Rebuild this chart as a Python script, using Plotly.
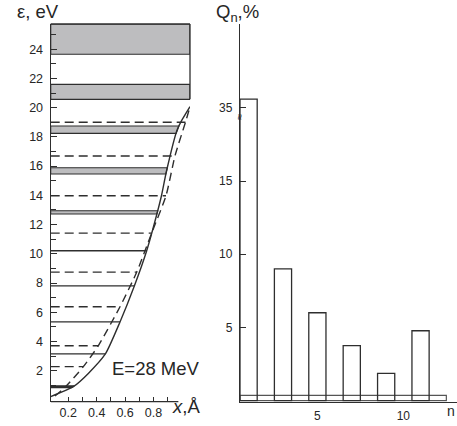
import numpy as np
import plotly.graph_objects as go

# ---------------- data: left panel (energy levels) ----------------
solid_curve_x = [0.076, 0.235, 0.341, 0.461, 0.564, 0.665, 0.752, 0.827, 0.856, 0.892, 0.966, 0.994, 1.057]
solid_curve_e = [0.23, 0.91, 1.82, 3.15, 5.34, 7.80, 10.21, 12.84, 13.97, 15.68, 18.47, 19.04, 20.06]
dashed_curve_x = [0.106, 0.18, 0.306, 0.411, 0.564, 0.682, 0.787, 0.888, 0.951, 1.025, 1.057]
dashed_curve_e = [0.27, 0.90, 2.28, 3.71, 6.38, 8.75, 11.42, 13.97, 16.69, 19.00, 20.06]
solid_levels = [0.91, 3.15, 5.34, 7.80, 10.21]
dashed_levels = [2.28, 3.71, 6.38, 8.75, 11.42, 13.97, 16.69, 19.00]
bound_bands = [(0.85, 0.98), (12.72, 12.95), (15.46, 15.89), (18.24, 18.74)]
free_bands = [(20.57, 21.59), (23.65, 25.72)]
eps_tick_vals = [2, 4, 6, 8, 10, 12, 14, 16, 18, 20, 22, 24]
x_tick_vals = [0.2, 0.3, 0.4, 0.5, 0.6, 0.7, 0.8, 0.9]
x_tick_text = ["0.2", " ", "0.4", " ", "0.6", " ", "0.8", " "]
energy_label = "E=28 MeV"

# ---------------- data: right panel (Q_n histogram) ----------------
n_values = [1, 3, 5, 7, 9, 11]
q_values = [35.6, 9.0, 6.0, 3.75, 1.86, 4.77]
q_base_n = [0.5, 12.5]
q_base_value = 0.35
q_tick_vals = [5, 10, 15, 35]
n_tick_vals = [5, 10]
BREAK_ABOVE = 17.0
BREAK_SHIFT = 15.0

# ---------------- geometry / style ----------------
W, H = 457, 426
LINE = "#2e2e2e"
TXT = "#262626"
GREY = "#bdbdbf"
FONT = "Liberation Sans, Arial, sans-serif"

X_RANGE = [0.076, 1.057]
Y_RANGE = [-0.116, 25.72]
X_AXIS_END = 0.975
N_RANGE = [0.5, 13.12]
Q_RANGE = [-0.08, 25.73]

def px_x(p):
    return p / W

def px_y(p):
    return 1 - p / H

left_dom_x = [px_x(50.7), px_x(190.0)]
right_dom_x = [px_x(240.0), 1.0]
dom_y = [px_y(401.7), px_y(24.0)]


def xs(e):
    return float(np.interp(e, solid_curve_e, solid_curve_x))


def xd(e):
    return float(np.interp(e, dashed_curve_e, dashed_curve_x))


def q_disp(v):
    return v - BREAK_SHIFT if v > BREAK_ABOVE else v


fig = go.Figure()
x0 = X_RANGE[0]

# bands bounded by the potential curve
for lo, hi in bound_bands:
    fig.add_trace(go.Scatter(
        x=[x0, xs(lo), xs(hi), x0, x0], y=[lo, lo, hi, hi, lo],
        mode="lines", fill="toself", fillcolor=GREY,
        line=dict(color=LINE, width=1.1), xaxis="x", yaxis="y",
        hoverinfo="skip", showlegend=False))

# free bands (full width)
for lo, hi in free_bands:
    x1 = X_RANGE[1]
    fig.add_trace(go.Scatter(
        x=[x0, x1, x1, x0, x0], y=[lo, lo, hi, hi, lo],
        mode="lines", fill="toself", fillcolor=GREY,
        line=dict(color=LINE, width=1.2), xaxis="x", yaxis="y",
        hoverinfo="skip", showlegend=False))

# solid levels
sx, sy = [], []
for e in solid_levels:
    sx += [x0, xs(e), None]
    sy += [e, e, None]
fig.add_trace(go.Scatter(x=sx, y=sy, mode="lines",
                         line=dict(color=LINE, width=1.3),
                         xaxis="x", yaxis="y", hoverinfo="skip", showlegend=False))

# dashed levels
dx, dy = [], []
for e in dashed_levels:
    dx += [x0, xd(e), None]
    dy += [e, e, None]
fig.add_trace(go.Scatter(x=dx, y=dy, mode="lines",
                         line=dict(color=LINE, width=1.3, dash="9px,5px"),
                         xaxis="x", yaxis="y", hoverinfo="skip", showlegend=False))

# potential curves
fig.add_trace(go.Scatter(x=solid_curve_x, y=solid_curve_e, mode="lines",
                         line=dict(color=LINE, width=1.4, shape="spline", smoothing=0.6),
                         xaxis="x", yaxis="y", hoverinfo="skip", showlegend=False))
fig.add_trace(go.Scatter(x=dashed_curve_x, y=dashed_curve_e, mode="lines",
                         line=dict(color=LINE, width=1.4, shape="spline", smoothing=0.6,
                                   dash="8px,5px"),
                         xaxis="x", yaxis="y", hoverinfo="skip", showlegend=False))

# right panel: baseline strip and bars
fig.add_trace(go.Bar(x=[(q_base_n[0] + q_base_n[1]) / 2], y=[q_base_value],
                     width=[q_base_n[1] - q_base_n[0]],
                     marker=dict(color="rgba(0,0,0,0)", line=dict(color="#555", width=1.2)),
                     xaxis="x2", yaxis="y2", hoverinfo="skip", showlegend=False))
fig.add_trace(go.Bar(x=n_values, y=[q_disp(v) for v in q_values], width=1.0,
                     marker=dict(color="rgba(0,0,0,0)", line=dict(color=LINE, width=1.3)),
                     xaxis="x2", yaxis="y2", hoverinfo="skip", showlegend=False))

tickfont = dict(family=FONT, size=12.5, color=TXT)
tickfont2 = dict(family=FONT, size=12, color=TXT)

fig.update_layout(
    width=W, height=H, autosize=False,
    margin=dict(l=0, r=0, t=0, b=0, pad=0),
    paper_bgcolor="white", plot_bgcolor="rgba(0,0,0,0)",
    barmode="overlay", showlegend=False,
    xaxis=dict(domain=left_dom_x, range=X_RANGE, showline=False, zeroline=False,
               showgrid=False, ticks="inside", ticklen=5, tickwidth=1.1, tickcolor=LINE,
               tickvals=x_tick_vals, ticktext=x_tick_text, tickfont=tickfont,
               ticklabelstandoff=2, anchor="y"),
    yaxis=dict(domain=dom_y, range=Y_RANGE, showline=True, linecolor=LINE, linewidth=1.3,
               zeroline=False, showgrid=False, ticks="inside", ticklen=6, tickwidth=1.1,
               tickcolor=LINE, tickvals=eps_tick_vals, tickfont=tickfont,
               ticklabelstandoff=4, anchor="x",
               minor=dict(ticks="inside", ticklen=5, tickwidth=1.0, tickcolor=LINE,
                          tickvals=[v for v in range(1, 26, 2)], showgrid=False)),
    xaxis2=dict(domain=right_dom_x, range=N_RANGE, showline=True, linecolor=LINE,
                linewidth=1.3, zeroline=False, showgrid=False, ticks="",
                tickvals=n_tick_vals, tickfont=tickfont2,
                ticklabelstandoff=3, anchor="y2"),
    yaxis2=dict(domain=dom_y, range=Q_RANGE, showline=True, linecolor=LINE, linewidth=1.3,
                zeroline=False, showgrid=False, ticks="inside", ticklen=6, tickwidth=1.1,
                tickcolor=LINE, tickvals=[q_disp(v) for v in q_tick_vals],
                ticktext=[str(v) for v in q_tick_vals],
                tickfont=tickfont2,
                ticklabelstandoff=4, anchor="x2"),
)

# frame lines of left panel
fig.add_shape(type="line", xref="x", yref="y domain", x0=X_RANGE[0], x1=X_AXIS_END,
              y0=0, y1=0, line=dict(color=LINE, width=1.3))
fig.add_shape(type="line", xref="x domain", yref="y domain", x0=0, x1=1, y0=1, y1=1,
              line=dict(color=LINE, width=1.6))
fig.add_shape(type="line", xref="x domain", yref="y", x0=1, x1=1,
              y0=free_bands[0][0], y1=Y_RANGE[1], line=dict(color=LINE, width=1.3))

# text
def label(text, xpx, ypx, size, xanchor="center"):
    fig.add_annotation(text=text, xref="paper", yref="paper", x=px_x(xpx), y=px_y(ypx),
                       xanchor=xanchor, yanchor="middle", showarrow=False,
                       font=dict(family=FONT, size=size, color=TXT))

label("ε, eV", 37.5, 12, 18.5)
label("Q<sub>n</sub>,%", 237, 13, 18.5)
label(energy_label, 156, 368, 18.5)
label("<i>x</i>,Å", 186, 406, 18.5)
label("n", 457, 410.5, 14, xanchor="right")
fig.add_annotation(text="≈", xref="x2", yref="y2", x=N_RANGE[0], y=19.4,
                   textangle=90, showarrow=False, font=dict(family=FONT, size=11, color=TXT))

fig.write_html("out.html", config={"displayModeBar": False},
               post_script="document.body.style.margin='0';document.body.style.padding='0';")
